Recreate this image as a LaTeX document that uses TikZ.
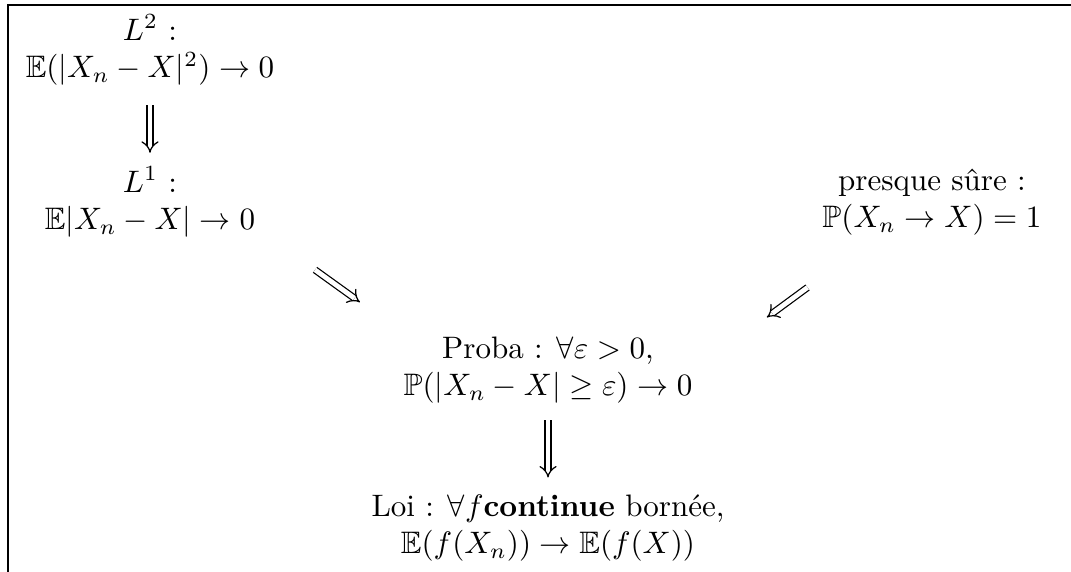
\documentclass[tikz,border=0pt]{standalone}
\usepackage{amssymb}
\usepackage{tikz}
\usetikzlibrary{positioning,arrows.meta}

\begin{document}
\begin{tikzpicture}[
        x=0.3222pt, y=-0.3222pt,
        cv/.style={align=center},
        impl/.style={double, double equal sign distance, -{Implies}},
    ]
        \useasboundingbox (0,0) rectangle (1071,572);
        \draw (1071,5) -- (8,5) -- (8,572);
        \node[cv] (l2)    at (150,50)  {$L^2$ :\\ $\mathbb{E}(|X_n-X|^2)\to 0$};
        \node[cv] (l1)    at (150,202) {$L^1$ :\\ $\mathbb{E}|X_n-X|\to 0$};
        \node[cv] (ps)    at (932,202) {presque sûre :\\ $\mathbb{P}(X_n\to X)=1$};
        \node[cv] (proba) at (548,370) {Proba : $\forall\varepsilon>0$,\\ $\mathbb{P}(|X_n-X|\geq\varepsilon)\to 0$};
        \node[cv] (loi)   at (548,528) {Loi : $\forall f\textbf{continue}$ bornée,\\ $\mathbb{E}(f(X_n))\to\mathbb{E}(f(X))$};
        \draw[impl, shorten <=3pt, shorten >=1pt] (l2) -- (l1);
        \draw[impl, shorten <=12pt, shorten >=13pt] ([xshift=6pt]l1.south east) -- (proba.north west);
        \draw[impl, shorten <=14pt, shorten >=13pt] ([xshift=10pt,yshift=-5pt]ps.south west) -- ([xshift=10pt,yshift=-5pt]proba.north east);
        \draw[impl, shorten <=2pt, shorten >=2pt] (proba) -- (loi);
    \end{tikzpicture}
\end{document}
